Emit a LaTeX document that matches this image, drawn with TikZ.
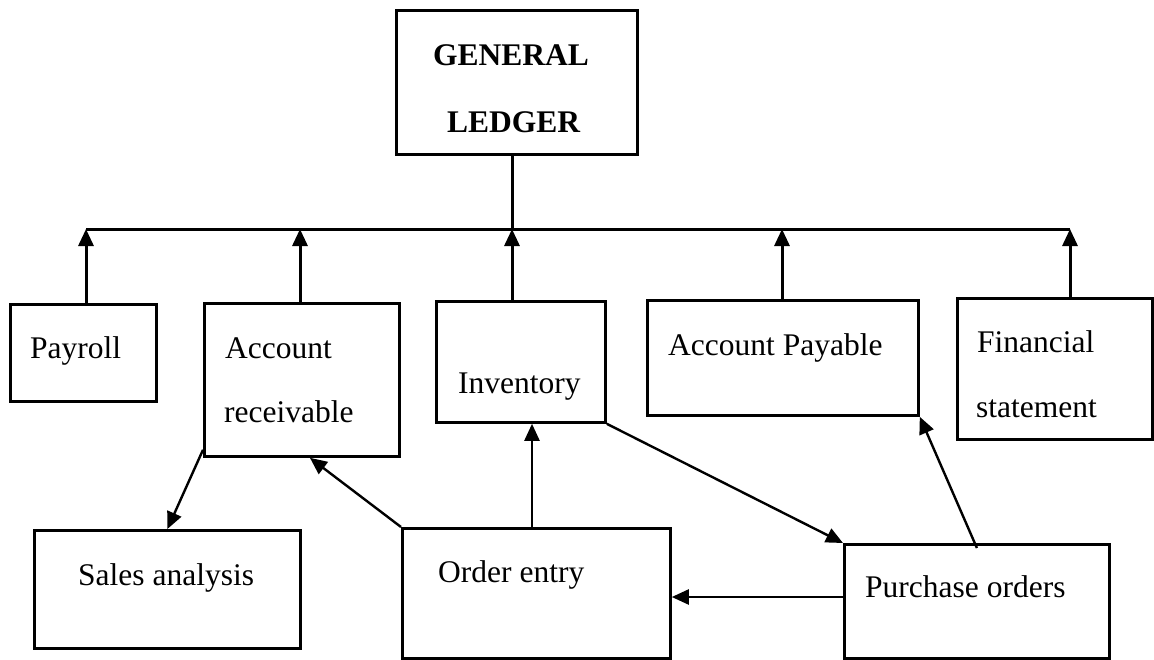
\documentclass[tikz,border=0pt]{standalone}
\usepackage{fontspec}
\setmainfont{Liberation Serif}
\usetikzlibrary{arrows.meta}
\begin{document}
\begin{tikzpicture}[x=1pt,y=-1pt,
  box/.style={draw, line width=2.8pt, inner sep=0pt, anchor=north west},
  lbl/.style={anchor=base west, inner sep=0pt, font=\fontsize{31.5}{38}\selectfont},
  conn/.style={line width=3pt},
  thin/.style={line width=2.4pt},
  arr/.style={-{Triangle[length=17pt,width=15pt]}},
]
\useasboundingbox (0,0) rectangle (1154,659);
% boxes
\node[box, minimum width=241pt, minimum height=144pt] (GL) at (395,9) {};
\node[box, minimum width=146pt, minimum height=97pt] (payroll) at (9,303) {};
\node[box, minimum width=195pt, minimum height=153pt] (AR) at (203,302) {};
\node[box, minimum width=169pt, minimum height=121pt] (inv) at (435,300) {};
\node[box, minimum width=271pt, minimum height=115pt] (AP) at (646,299) {};
\node[box, minimum width=195pt, minimum height=141pt] (FS) at (956,297) {};
\node[box, minimum width=266pt, minimum height=118pt] (sales) at (33,529) {};
\node[box, minimum width=268pt, minimum height=130pt] (OE) at (401,527) {};
\node[box, minimum width=265pt, minimum height=114pt] (PO) at (843,543) {};
% texts
\node[lbl, font=\fontsize{31.5}{38}\selectfont\bfseries] (tGL1) at (433,65) {GENERAL};
\node[lbl, font=\fontsize{31.5}{38}\selectfont\bfseries] (tGL2) at (447,132) {LEDGER};
\node[lbl] (tpay) at (30,358) {Payroll};
\node[lbl] (tar1) at (225,358) {Account};
\node[lbl] (tar2) at (224,422) {receivable};
\node[lbl] (tinv) at (458,393) {Inventory};
\node[lbl] (tap) at (668,355) {Account Payable};
\node[lbl] (tfs1) at (977,352) {Financial};
\node[lbl] (tfs2) at (976,417) {statement};
\node[lbl] (tsa) at (78,585) {Sales analysis};
\node[lbl] (toe) at (438,582) {Order entry};
\node[lbl] (tpo) at (865,597) {Purchase orders};
% bus coordinates
\coordinate (b1) at (86,229);
\coordinate (b2) at (300,229);
\coordinate (b3) at (512,229);
\coordinate (b4) at (782,229);
\coordinate (b5) at (1070,229);
\coordinate (oex) at (532,0);
\coordinate (poy) at (0,597);
% connectors
\draw[conn] (b1) -- (b5);
\draw[conn] (GL.south -| b3) -- (b3);
\draw[conn, arr] (payroll.north -| b1) -- (b1);
\draw[conn, arr] (AR.north -| b2) -- (b2);
\draw[conn, arr] (inv.north -| b3) -- (b3);
\draw[conn, arr] (AP.north -| b4) -- (b4);
\draw[conn, arr] (FS.north -| b5) -- (b5);
\draw[thin, arr] ([yshift=8pt]AR.south west) -- (sales.north);
\draw[thin, arr] (OE.north west) -- ([xshift=8pt]AR.south);
\draw[thin, arr] (OE.north -| oex) -- (inv.south -| oex);
\draw[thin, arr] (inv.south east) -- (PO.north west);
\draw[thin, arr] ([yshift=-5pt]PO.north) -- (AP.south east);
\draw[thin, arr] (PO.west |- poy) -- (OE.east |- poy);
\end{tikzpicture}
\end{document}
